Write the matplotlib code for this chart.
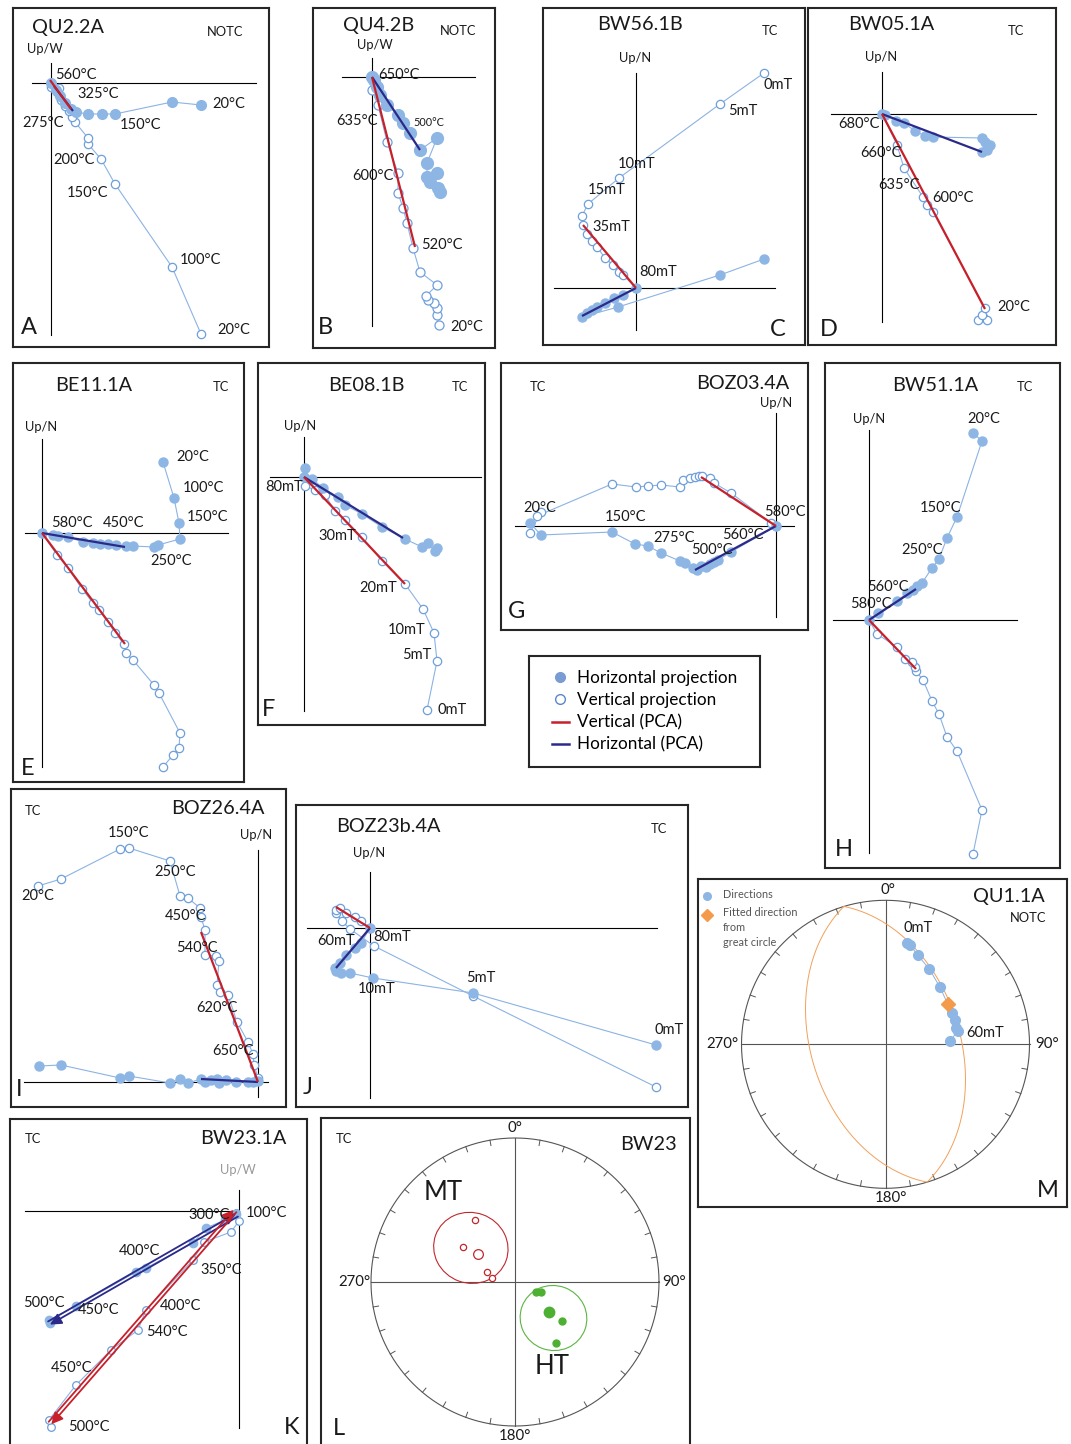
import numpy as np
import matplotlib
matplotlib.use("Agg")
import matplotlib.pyplot as plt
from matplotlib.lines import Line2D
from matplotlib.patches import Ellipse

plt.rcParams['font.family'] = ['Lato', 'DejaVu Sans']

W, H = 1071, 1444

FILL = '#8DB6E5'
EDGE = '#6E9FDB'
LINE = '#8CB3E3'
RED = '#C8202A'
NAVY = '#2B2A8A'
INK = '#1A1A1A'
NET = '#555555'

LABEL_FS = 10.5
TITLE_FS = 14.3
SMALL_FS = 9.3
LETTER_FS = 17

# --- orthogonal vector components (x: N/W, y: Up), arbitrary units ---
# A  QU2.2A
QU22A_hor = [(150, -22), (121, -19), (64, -31), (51, -31), (37, -31), (25, -29), (20, -26),
             (14, -20), (9, -13), (5, -7), (0, 0)]
QU22A_ver = [(150, -251), (121, -184), (64, -101), (50, -76), (37, -61), (37, -55), (24, -39),
             (21, -34), (18, -28), (14, -23), (10, -17), (6, -9), (8, -5), (0, -4)]
QU22A_pca_v = [(-1, 3), (20, -26)]
QU22A_pca_h = [(3, -3), (22, -28)]

# B  QU4.2B
QU42B_hor = [(68, -115), (66, -111), (58, -105), (65, -96), (55, -100), (55, -86), (65, -61),
             (48, -73), (38, -56), (31, -46), (26, -38), (15, -28), (8, -18), (5, -10), (2, -3), (0, 0)]
QU42B_ver = [(67, -248), (65, -238), (65, -231), (62, -226), (56, -223), (54, -219), (65, -208),
             (48, -195), (41, -171), (35, -146), (31, -131), (26, -116), (26, -96), (15, -65),
             (6, -28), (0, -13), (0, 0)]
QU42B_pca_v = [(0, 0), (43, -170)]
QU42B_pca_h = [(0, 0), (48, -73)]

# C  BW56.1B
BW561B_ver = [(128, 215), (84, 184), (-17, 110), (-48, 84), (-54, 72), (-53, 63), (-49, 54),
              (-44, 47), (-39, 41), (-31, 30), (-23, 23), (-17, 16), (-13, 13), (0, 0)]
BW561B_hor = [(128, 29), (84, 13), (-18, -19), (-54, -29), (-49, -25), (-44, -22), (-39, -19),
              (-31, -15), (-22, -10), (-13, -7), (0, 0)]
BW561B_pca_v = [(-53, 63), (0, 0)]
BW561B_pca_h = [(-54, -28), (0, 0)]

# D  BW05.1A
BW051A_hor = [(108, -31), (106, -33), (105, -36), (100, -38), (103, -28), (100, -24), (51, -23),
              (43, -22), (33, -17), (22, -9), (14, -7), (3, -1), (0, 0)]
BW051A_ver = [(101, -203), (96, -206), (105, -206), (100, -201), (103, -194), (51, -98),
              (45, -91), (41, -83), (22, -54), (15, -31), (0, 0)]
BW051A_pca_v = [(0, 0), (103, -195)]
BW051A_pca_h = [(0, 0), (100, -38)]

# E  BE11.1A
BE111A_hor = [(121, 71), (132, 35), (137, 10), (138, -6), (116, -12), (112, -14), (91, -13),
              (84, -13), (74, -12), (66, -11), (58, -11), (51, -10), (41, -9), (26, -4), (16, -3),
              (11, -2), (0, 0)]
BE111A_ver = [(121, -234), (131, -222), (137, -215), (138, -200), (117, -160), (112, -152),
              (91, -127), (84, -120), (82, -111), (73, -100), (66, -89), (57, -77), (51, -70),
              (40, -56), (26, -35), (15, -22), (0, 0)]
BE111A_pca_v = [(0, 0), (83, -111)]
BE111A_pca_h = [(0, 0), (83, -14)]

# F  BE08.1B
BE081B_hor = [(133, -71), (131, -74), (124, -66), (118, -70), (101, -62), (78, -50), (58, -37),
              (41, -28), (34, -20), (19, -11), (8, -2), (0, 0), (1, 9)]
BE081B_ver = [(123, -233), (133, -184), (130, -156), (119, -132), (101, -107), (78, -84),
              (58, -60), (41, -43), (31, -34), (21, -18), (11, -13), (1, -9), (0, 0)]
BE081B_pca_v = [(0, 0), (101, -107)]
BE081B_pca_h = [(0, 0), (99, -61)]

# G  BOZ03.4A
BOZ034A_ver = [(-246, -7), (-235, 14), (-239, 10), (-164, 42), (-140, 39), (-128, 40), (-115, 41),
               (-96, 39), (-93, 46), (-86, 48), (-81, 49), (-77, 50), (-74, 50), (-66, 48),
               (-62, 43), (-45, 33), (-5, 3), (0, 0)]
BOZ034A_hor = [(-246, 3), (-235, -9), (-164, -6), (-141, -18), (-128, -20), (-115, -27),
               (-96, -35), (-91, -37), (-83, -42), (-79, -44), (-75, -40), (-70, -41),
               (-66, -38), (-62, -36), (-58, -34), (-45, -26), (0, 0)]
BOZ034A_pca_v = [(-75, 49), (0, 0)]
BOZ034A_pca_h = [(-81, -44), (0, 0)]

# H  BW51.1A
BW511A_hor = [(104, 187), (113, 179), (88, 103), (78, 82), (70, 61), (63, 52), (53, 37),
              (48, 34), (44, 30), (38, 27), (28, 19), (9, 7), (0, 0)]
BW511A_ver = [(104, -234), (113, -190), (88, -131), (78, -117), (70, -94), (63, -81), (54, -60),
              (47, -51), (46, -47), (43, -42), (36, -39), (28, -27), (8, -14), (0, 0)]
BW511A_pca_v = [(0, 0), (47, -49)]
BW511A_pca_h = [(0, 0), (47, 31)]

# I  BOZ26.4A
BOZ264A_ver = [(-220, 196), (-197, 203), (-138, 233), (-129, 234), (-88, 221), (-78, 186),
               (-70, 184), (-58, 174), (-57, 165), (-53, 152), (-53, 127), (-42, 126), (-39, 121),
               (-41, 97), (-38, 90), (-30, 87), (-21, 60), (-10, 40), (-5, 28), (-4, 17), (0, 4)]
BOZ264A_hor = [(-219, 16), (-197, 17), (-138, 4), (-129, 6), (-88, -1), (-78, 3), (-70, -1),
               (-57, 3), (-53, 0), (-47, 2), (-41, 3), (-39, -1), (-32, 2), (-22, 0), (-10, 0),
               (-5, 0), (0, 1)]
BOZ264A_pca_v = [(-57, 150), (0, 0)]
BOZ264A_pca_h = [(-57, 3), (0, 0)]

# J  BOZ23b.4A
BOZ23B_hor = [(286, -117), (103, -65), (3, -50), (-20, -45), (-29, -45), (-34, -43), (-35, -40),
              (-30, -35), (-24, -27), (-15, -20), (-9, -15), (0, 0)]
BOZ23B_ver = [(286, -159), (103, -68), (4, -18), (-20, -1), (-28, 7), (-34, 15), (-34, 18),
              (-30, 20), (-24, 15), (-15, 11), (-9, 7), (0, 0)]
BOZ23B_pca_v = [(-34, 21), (0, 0)]
BOZ23B_pca_h = [(-34, -40), (0, 0)]

# K  BW23.1A
BW231A_hor = [(-189, -112), (-190, -109), (-163, -95), (-103, -61), (-93, -57), (-46, -32),
              (-33, -17), (-14, -9), (-3, -3)]
BW231A_ver = [(-188, -216), (-190, -209), (-163, -174), (-128, -139), (-101, -119), (-93, -99),
              (-46, -49), (-35, -31), (-8, -21), (0, -10), (-3, -2)]
BW231A_fit_h = [(-2, -4), (-190, -112)]
BW231A_fit_v = [(-4, 0), (-189, -212)]

# M  QU1.1A  (declination, inclination)
QU11A_dec = [11.9, 13.9, 19.8, 30.3, 43.7, 64.5, 70.7, 76.8, 79.6, 87.1]
QU11A_inc = [29.0, 29.8, 34.4, 39.4, 44.4, 47.8, 47.7, 48.3, 47.8, 53.0]
QU11A_fit = (57.3, 47.4)
QU11A_plane = (73.2, 47.0)   # dip direction, dip

# L  BW23 site components
MT_dec = [327.3, 304.2, 289.2, 279.0]
MT_inc = [-47.6, -54.1, -73.4, -76.6]
MT_mean = (307.4, -63.8)
MT_cone = (307.7, -58.2, 0.52, 0.49, -20)
HT_dec = [115.0, 110.1, 130.0, 146.2]
HT_inc = [77.1, 74.1, 55.3, 47.6]
HT_mean = (131.1, 64.4)
HT_cone = (133.1, 60.0, 0.465, 0.45, -20)

fig = plt.figure(figsize=(W / 100, H / 100), dpi=100)


def zaxes(box, origin):
    x0, y0, x1, y1 = box
    ox, oy = origin
    ax = fig.add_axes([x0 / W, 1 - y1 / H, (x1 - x0) / W, (y1 - y0) / H])
    ax.set_xlim(x0 - ox, x1 - ox)
    ax.set_ylim(oy - y1, oy - y0)
    ax.set_xticks([])
    ax.set_yticks([])
    for sp in ax.spines.values():
        sp.set_linewidth(1.5)
        sp.set_color('#262626')
    return ax


def cross(ax, xr, yr):
    ax.plot(xr, [0, 0], color='k', lw=0.8, zorder=1)
    ax.plot([0, 0], yr, color='k', lw=0.8, zorder=1)


def series(ax, pts, filled, ms=6):
    x, y = zip(*pts)
    if filled:
        ax.plot(x, y, '-o', color=LINE, lw=0.8, ms=ms, mfc=FILL, mec=FILL, zorder=3)
    else:
        ax.plot(x, y, '-o', color=LINE, lw=0.8, ms=ms, mfc='white', mec=EDGE, mew=0.9, zorder=2)


def pca(ax, seg, color):
    (xa, ya), (xb, yb) = seg
    ax.plot([xa, xb], [ya, yb], color=color, lw=1.6, solid_capstyle='butt', zorder=5)


def notes(ax, items, size=LABEL_FS):
    for s, x, y in items:
        ax.text(x, y, s, fontsize=size, ha='left', va='center', color=INK, zorder=6)


def header(ax, title, tpos, corr, cpos, up, upos, letter, lpos, up_color=INK):
    ax.text(*tpos, title, fontsize=TITLE_FS, ha='left', va='center', color=INK)
    ax.text(*cpos, corr, fontsize=SMALL_FS, ha='left', va='center', color=INK)
    ax.text(*upos, up, fontsize=SMALL_FS, ha='left', va='center', color=up_color)
    ax.text(*lpos, letter, fontsize=LETTER_FS, ha='left', va='center', color=INK)


def zpanel(box, origin, axx, axy, hor, ver, pca_v, pca_h, ms_h=6.5, ms_v=6):
    ax = zaxes(box, origin)
    cross(ax, axx, axy)
    series(ax, ver, False, ms_v)
    series(ax, hor, True, ms_h)
    pca(ax, pca_h, NAVY)
    pca(ax, pca_v, RED)
    return ax


# A
ax = zpanel((13, 8, 269, 347), (51, 83), (-19, 205), (20, -252),
            QU22A_hor, QU22A_ver, QU22A_pca_v, QU22A_pca_h, ms_h=7)
notes(ax, [("560°C", 4, 8), ("325°C", 26, -11), ("275°C", -29, -40), ("150°C", 69, -42),
           ("20°C", 161, -21), ("200°C", 2, -77), ("150°C", 16, -110), ("100°C", 129, -177),
           ("20°C", 166, -247)])
header(ax, "QU2.2A", (-19, 56), "NOTC", (156, 51), "Up/W", (-24, 34), "A", (-30, -245))

# B
ax = zpanel((313, 8, 495, 348), (372, 77), (-30, 103), (19, -249),
            QU42B_hor, QU42B_ver, QU42B_pca_v, QU42B_pca_h, ms_h=8.5, ms_v=6.5)
notes(ax, [("650°C", 6, 2), ("635°C", -36, -44), ("600°C", -20, -99), ("520°C", 49, -168),
           ("20°C", 78, -250)])
notes(ax, [("500°C", 41, -45)], size=7.8)
header(ax, "QU4.2B", (-29, 51), "NOTC", (68, 46), "Up/W", (-15, 32), "B", (-54, -251))

# C
ax = zpanel((543, 8, 805, 345), (636, 288), (-82, 139), (215, -42),
            BW561B_hor, BW561B_ver, BW561B_pca_v, BW561B_pca_h)
notes(ax, [("0mT", 127, 203), ("5mT", 92, 177), ("10mT", -18, 124), ("15mT", -48, 98),
           ("35mT", -44, 61), ("80mT", 3, 16)])
header(ax, "BW56.1B", (-39, 263), "TC", (126, 257), "Up/N", (-17, 230), "C", (134, -42))

# D
ax = zpanel((808, 8, 1056, 345), (882, 114), (-51, 154), (42, -208),
            BW051A_hor, BW051A_ver, BW051A_pca_v, BW051A_pca_h)
notes(ax, [("680°C", -44, -10), ("660°C", -22, -39), ("635°C", -4, -71), ("600°C", 50, -84),
           ("20°C", 115, -193)])
header(ax, "BW05.1A", (-34, 89), "TC", (126, 83), "Up/N", (-17, 57), "D", (-62, -216))

# E
ax = zpanel((13, 363, 244, 782), (42, 533), (-17, 186), (94, -234),
            BE111A_hor, BE111A_ver, BE111A_pca_v, BE111A_pca_h)
notes(ax, [("20°C", 134, 76), ("100°C", 141, 45), ("150°C", 145, 16), ("580°C", 9, 10),
           ("450°C", 61, 10), ("250°C", 108, -28)])
header(ax, "BE11.1A", (13, 148), "TC", (171, 146), "Up/N", (-17, 106), "E", (-21, -235))

# F
ax = zpanel((258, 363, 485, 725), (304, 477), (-34, 177), (40, -234),
            BE081B_hor, BE081B_ver, BE081B_pca_v, BE081B_pca_h)
notes(ax, [("80mT", -39, -10), ("30mT", 14, -59), ("20mT", 55, -111), ("10mT", 84, -153),
           ("5mT", 98, -178), ("0mT", 134, -233)])
header(ax, "BE08.1B", (24, 92), "TC", (148, 90), "Up/N", (-20, 51), "F", (-42, -233))

# G
ax = zpanel((501, 363, 808, 630), (776, 526), (-261, 18), (113, -91),
            BOZ034A_hor, BOZ034A_ver, BOZ034A_pca_v, BOZ034A_pca_h)
notes(ax, [("20°C", -253, 18), ("150°C", -171, 9), ("275°C", -123, -12), ("500°C", -85, -24),
           ("560°C", -54, -9), ("580°C", -12, 14)])
header(ax, "BOZ03.4A", (-80, 142), "TC", (-246, 139), "Up/N", (-16, 123), "G", (-268, -86))

# H
ax = zpanel((825, 363, 1060, 868), (869, 620), (-36, 148), (190, -233),
            BW511A_hor, BW511A_ver, BW511A_pca_v, BW511A_pca_h)
notes(ax, [("20°C", 98, 201), ("150°C", 51, 112), ("250°C", 32, 70), ("560°C", -2, 33),
           ("580°C", -19, 16)])
header(ax, "BW51.1A", (23, 235), "TC", (148, 233), "Up/N", (-16, 201), "H", (-34, -230))

# I
ax = zpanel((11, 789, 286, 1107), (258, 1082), (-234, 10), (232, -15),
            BOZ264A_hor, BOZ264A_ver, BOZ264A_pca_v, BOZ264A_pca_h)
notes(ax, [("150°C", -150, 249), ("20°C", -237, 186), ("250°C", -104, 210), ("450°C", -93, 166),
           ("540°C", -82, 134), ("620°C", -62, 74), ("650°C", -46, 31)])
header(ax, "BOZ26.4A", (-87, 273), "TC", (-233, 271), "Up/N", (-18, 247), "I", (-242, -8))

# J
ax = zpanel((296, 805, 688, 1107), (370, 928), (-63, 287), (56, -170),
            BOZ23B_hor, BOZ23B_ver, BOZ23B_pca_v, BOZ23B_pca_h)
notes(ax, [("60mT", -53, -13), ("80mT", 3, -9), ("5mT", 96, -50), ("10mT", -12, -61),
           ("0mT", 285, -102)])
header(ax, "BOZ23b.4A", (-34, 101), "TC", (281, 99), "Up/N", (-17, 75), "J", (-67, -160))

# K: fitted components drawn as paired arrows
ax = zaxes((10, 1119, 307, 1452), (239, 1211))
cross(ax, (-214, 0), (21, -217))
series(ax, BW231A_ver, False, 5.5)
series(ax, BW231A_hor, True, 6)
for fit, col in ((BW231A_fit_h, NAVY), (BW231A_fit_v, RED)):
    (xa, ya), (xb, yb) = fit
    d = np.array([xb - xa, yb - ya], dtype=float)
    n = np.array([-d[1], d[0]]) / np.hypot(*d) * 1.8
    for sgn, (p, q) in ((1, ((xa, ya), (xb, yb))), (-1, ((xb, yb), (xa, ya)))):
        p = np.array(p) + sgn * n
        q = np.array(q) + sgn * n
        ax.annotate('', xy=q, xytext=p, zorder=5,
                    arrowprops=dict(arrowstyle='-|>', color=col, lw=1.3,
                                    mutation_scale=17, shrinkA=0, shrinkB=0))
notes(ax, [("300°C", -51, -4), ("100°C", 7, -2), ("400°C", -120, -40), ("350°C", -39, -59),
           ("500°C", -216, -92), ("450°C", -161, -99), ("400°C", -79, -95), ("540°C", -93, -121),
           ("450°C", -188, -157), ("500°C", -171, -216)])
header(ax, "BW23.1A", (-39, 72), "TC", (-214, 72), "Up/W", (-19, 41), "K", (45, -217),
       up_color='#999999')


# --- equal-area stereonets ---
def ea(dec, inc):
    d = np.radians(np.asarray(dec, dtype=float))
    i = np.radians(np.abs(np.asarray(inc, dtype=float)))
    r = np.sqrt(2) * np.sin((np.pi / 2 - i) / 2)
    return r * np.sin(d), r * np.cos(d)


def net_axes(box, center, R):
    x0, y0, x1, y1 = box
    cx, cy = center
    ax = fig.add_axes([x0 / W, 1 - y1 / H, (x1 - x0) / W, (y1 - y0) / H])
    ax.set_xlim((x0 - cx) / R, (x1 - cx) / R)
    ax.set_ylim((cy - y1) / R, (cy - y0) / R)
    ax.set_xticks([])
    ax.set_yticks([])
    for sp in ax.spines.values():
        sp.set_linewidth(1.5)
        sp.set_color('#262626')
    t = np.linspace(0, 2 * np.pi, 721)
    ax.plot(np.cos(t), np.sin(t), color=NET, lw=0.8)
    ax.plot([-1, 1], [0, 0], color=NET, lw=0.8)
    ax.plot([0, 0], [-1, 1], color=NET, lw=0.8)
    for a in np.radians(np.arange(0, 360, 10)):
        ax.plot([0.962 * np.sin(a), np.sin(a)], [0.962 * np.cos(a), np.cos(a)], color=NET, lw=0.7)
    return ax


def degree_labels(ax, n, e, s, w):
    ax.text(*n, "0°", fontsize=10.8, ha='center', va='center', color=INK)
    ax.text(*e, "90°", fontsize=10.8, ha='left', va='center', color=INK)
    ax.text(*s, "180°", fontsize=10.8, ha='center', va='center', color=INK)
    ax.text(*w, "270°", fontsize=10.8, ha='right', va='center', color=INK)


# M
ax = net_axes((698, 879, 1067, 1207), (885.5, 1044.3), 144)
degree_labels(ax, (0.02, 1.07), (1.038, 0), (0.04, -1.068), (-1.022, 0))
dd, dip = np.radians(QU11A_plane)
strike = dd - np.pi / 2
s_vec = np.array([np.cos(strike), np.sin(strike), 0.0])
d_vec = np.array([np.cos(dd) * np.cos(dip), np.sin(dd) * np.cos(dip), np.sin(dip)])
tt = np.linspace(0, 2 * np.pi, 721)
v = np.outer(np.cos(tt), s_vec) + np.outer(np.sin(tt), d_vec)
gc_dec = np.degrees(np.arctan2(v[:, 1], v[:, 0]))
gc_inc = np.degrees(np.arcsin(np.clip(v[:, 2], -1, 1)))
for mask in (gc_inc >= 0, gc_inc < 0):
    # keep each half contiguous by starting just after a break
    start = np.argmax(~mask) if not mask.all() else 0
    seq = [k for k in np.roll(np.arange(len(tt)), -start) if mask[k]]
    gx, gy = ea(gc_dec[seq], gc_inc[seq])
    ax.plot(gx, gy, color='#F2A05A', lw=0.7, zorder=2)
px, py = ea(QU11A_dec, QU11A_inc)
ax.plot(px, py, '-', color=LINE, lw=0.7, zorder=3)
ax.plot(px, py, 'o', ms=7, mfc=FILL, mec=FILL, zorder=4)
fx, fy = ea(*QU11A_fit)
ax.plot(fx, fy, 'D', ms=7.5, mfc='#F39A4B', mec='#F39A4B', zorder=5)
ax.text(0.128, 0.808, "0mT", fontsize=LABEL_FS, ha='left', va='center', color=INK)
ax.text(0.564, 0.08, "60mT", fontsize=LABEL_FS, ha='left', va='center', color=INK)
ax.text(0.608, 1.024, "QU1.1A", fontsize=TITLE_FS, ha='left', va='center', color=INK)
ax.text(0.865, 0.877, "NOTC", fontsize=SMALL_FS, ha='left', va='center', color=INK)
ax.text(1.052, -1.012, "M", fontsize=LETTER_FS, ha='left', va='center', color=INK)
ax.plot(-1.24, 1.031, 'o', ms=5.5, mfc=FILL, mec=FILL)
ax.plot(-1.24, 0.898, 'D', ms=6, mfc='#F39A4B', mec='#F39A4B')
for txt, y in (("Directions", 1.037), ("Fitted direction", 0.912), ("from", 0.808),
               ("great circle", 0.71)):
    ax.text(-1.13, y, txt, fontsize=7.8, ha='left', va='center', color='#555555')

# L
ax = net_axes((321, 1118, 690, 1452), (515, 1282), 144)
degree_labels(ax, (0.0, 1.069), (1.021, 0), (0.0, -1.067), (-1.007, 0))
for cone, col in ((MT_cone, '#C0282D'), (HT_cone, '#5BB540')):
    cx, cy = ea(cone[0], cone[1])
    ax.add_patch(Ellipse((cx, cy), cone[2], cone[3], angle=cone[4], fill=False,
                         ec=col, lw=0.8, zorder=3))
mx, my = ea(MT_dec, MT_inc)
ax.plot(mx, my, 'o', ms=4.5, mfc='white', mec='#C0282D', mew=0.9, zorder=4)
mx, my = ea(*MT_mean)
ax.plot(mx, my, 'o', ms=7, mfc='white', mec='#C0282D', mew=0.9, zorder=4)
hx, hy = ea(HT_dec, HT_inc)
ax.plot(hx, hy, 'o', ms=5, mfc='#4DB032', mec='#4DB032', zorder=4)
hx, hy = ea(*HT_mean)
ax.plot(hx, hy, 'o', ms=7.5, mfc='#4DB032', mec='#4DB032', zorder=4)
ax.text(-0.632, 0.625, "MT", fontsize=18.5, ha='left', va='center', color=INK)
ax.text(0.139, -0.59, "HT", fontsize=18.5, ha='left', va='center', color=INK)
ax.text(-1.243, 0.993, "TC", fontsize=SMALL_FS, ha='left', va='center', color=INK)
ax.text(0.729, 0.958, "BW23", fontsize=TITLE_FS, ha='left', va='center', color=INK)
ax.text(-1.264, -1.014, "L", fontsize=LETTER_FS, ha='left', va='center', color=INK)

# legend box
lax = fig.add_axes([529 / W, 1 - 767 / H, (760 - 529) / W, (767 - 656) / H])
lax.set_xticks([])
lax.set_yticks([])
for sp in lax.spines.values():
    sp.set_linewidth(1.5)
    sp.set_color('#262626')
handles = [
    Line2D([], [], marker='o', ls='none', ms=7, mfc='#7B9BD3', mec='#7B9BD3'),
    Line2D([], [], marker='o', ls='none', ms=7, mfc='white', mec='#5B86C8', mew=1.0),
    Line2D([], [], color=RED, lw=1.8),
    Line2D([], [], color=NAVY, lw=1.8),
]
labels = ["Horizontal projection", "Vertical projection", "Vertical (PCA)", "Horizontal (PCA)"]
lax.legend(handles, labels, loc='center', frameon=False, fontsize=12.3, handlelength=1.0,
           handletextpad=0.5, labelspacing=0.35, borderpad=0)

fig.savefig("out.png", dpi=100)
